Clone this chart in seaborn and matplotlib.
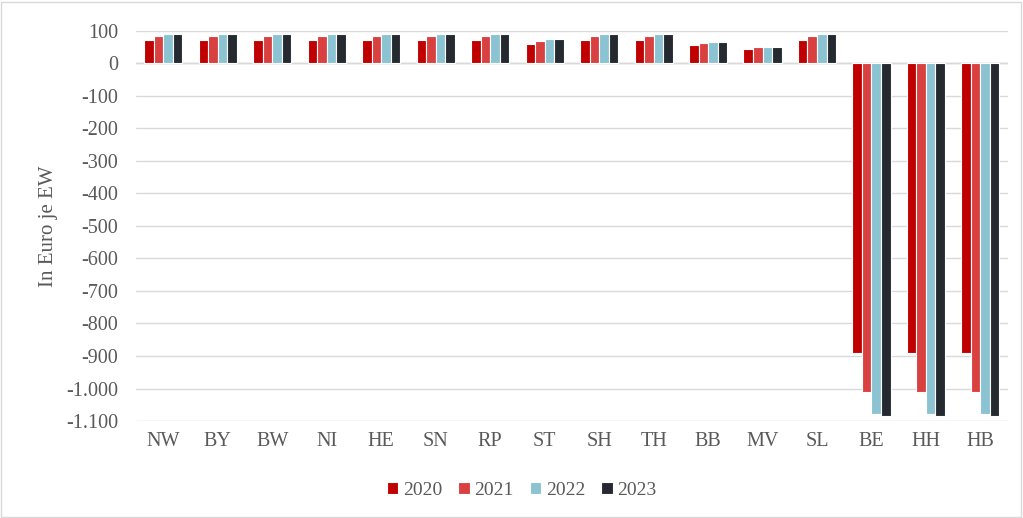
import matplotlib
matplotlib.use("Agg")
import matplotlib.pyplot as plt
import seaborn as sns
import pandas as pd
from matplotlib.ticker import FuncFormatter, MultipleLocator

laender = ["NW", "BY", "BW", "NI", "HE", "SN", "RP", "ST", "SH", "TH",
           "BB", "MV", "SL", "BE", "HH", "HB"]
jahre = ["2020", "2021", "2022", "2023"]
w2020 = [72, 72, 72, 72, 72, 72, 72, 60, 72, 72, 55, 43, 72, -890, -890, -890]
w2021 = [82, 82, 82, 82, 82, 82, 82, 67, 82, 82, 61, 48, 82, -1012, -1012, -1012]
w2022 = [88, 88, 88, 88, 88, 88, 88, 73, 88, 88, 65, 51, 88, -1078, -1078, -1078]
w2023 = [90, 90, 90, 90, 90, 90, 90, 73, 90, 90, 66, 51, 90, -1084, -1084, -1084]
farben = ["#C00000", "#D94141", "#8BC3D3", "#252A31"]

df = pd.DataFrame({"Land": laender * 4,
                   "Jahr": sum([[j] * len(laender) for j in jahre], []),
                   "Wert": w2020 + w2021 + w2022 + w2023})

sns.set_theme(style="white")
plt.rcParams["font.family"] = ["Liberation Serif", "DejaVu Serif"]

fig = plt.figure(figsize=(10.23, 5.18), dpi=100)
ax = fig.add_axes([0.133, 0.187, 0.852, 0.754])

sns.barplot(data=df, x="Land", y="Wert", hue="Jahr", palette=farben,
            saturation=1, width=0.7, edgecolor="white", linewidth=0.8,
            ax=ax, legend=True)

ax.set_ylim(-1100, 100)
ax.yaxis.set_major_locator(MultipleLocator(100))
ax.yaxis.set_major_formatter(
    FuncFormatter(lambda v, p: f"{int(round(v)):,}".replace(",", ".")))
ax.grid(axis="y", color="#D9D9D9", linewidth=1)
ax.set_axisbelow(True)
ax.axhline(0, color="#D0D0D0", linewidth=1, zorder=0.5)
for s in ax.spines.values():
    s.set_visible(False)
ax.tick_params(axis="both", length=0, colors="#595959", labelsize=14.5)
ax.tick_params(axis="y", pad=13)
ax.tick_params(axis="x", pad=8)
ax.set_xlabel("")
ax.set_ylabel("In Euro je EW", color="#595959", fontsize=15, labelpad=6)
ax.set_xlim(-0.5, len(laender) - 0.5)

handles, labels = ax.get_legend_handles_labels()
ax.legend_.remove()
fig.legend(handles, labels, loc="center", bbox_to_anchor=(0.51, 0.054),
           ncol=4, frameon=False, fontsize=14, handlelength=0.6,
           handleheight=0.6, columnspacing=0.8, handletextpad=0.25,
           labelcolor="#595959")

fig.patches.append(plt.Rectangle((0.001, 0.002), 0.997, 0.995,
                                 transform=fig.transFigure, fill=False,
                                 edgecolor="#D9D9D9", linewidth=1))
fig.savefig("out.png", dpi=100, facecolor="white")
